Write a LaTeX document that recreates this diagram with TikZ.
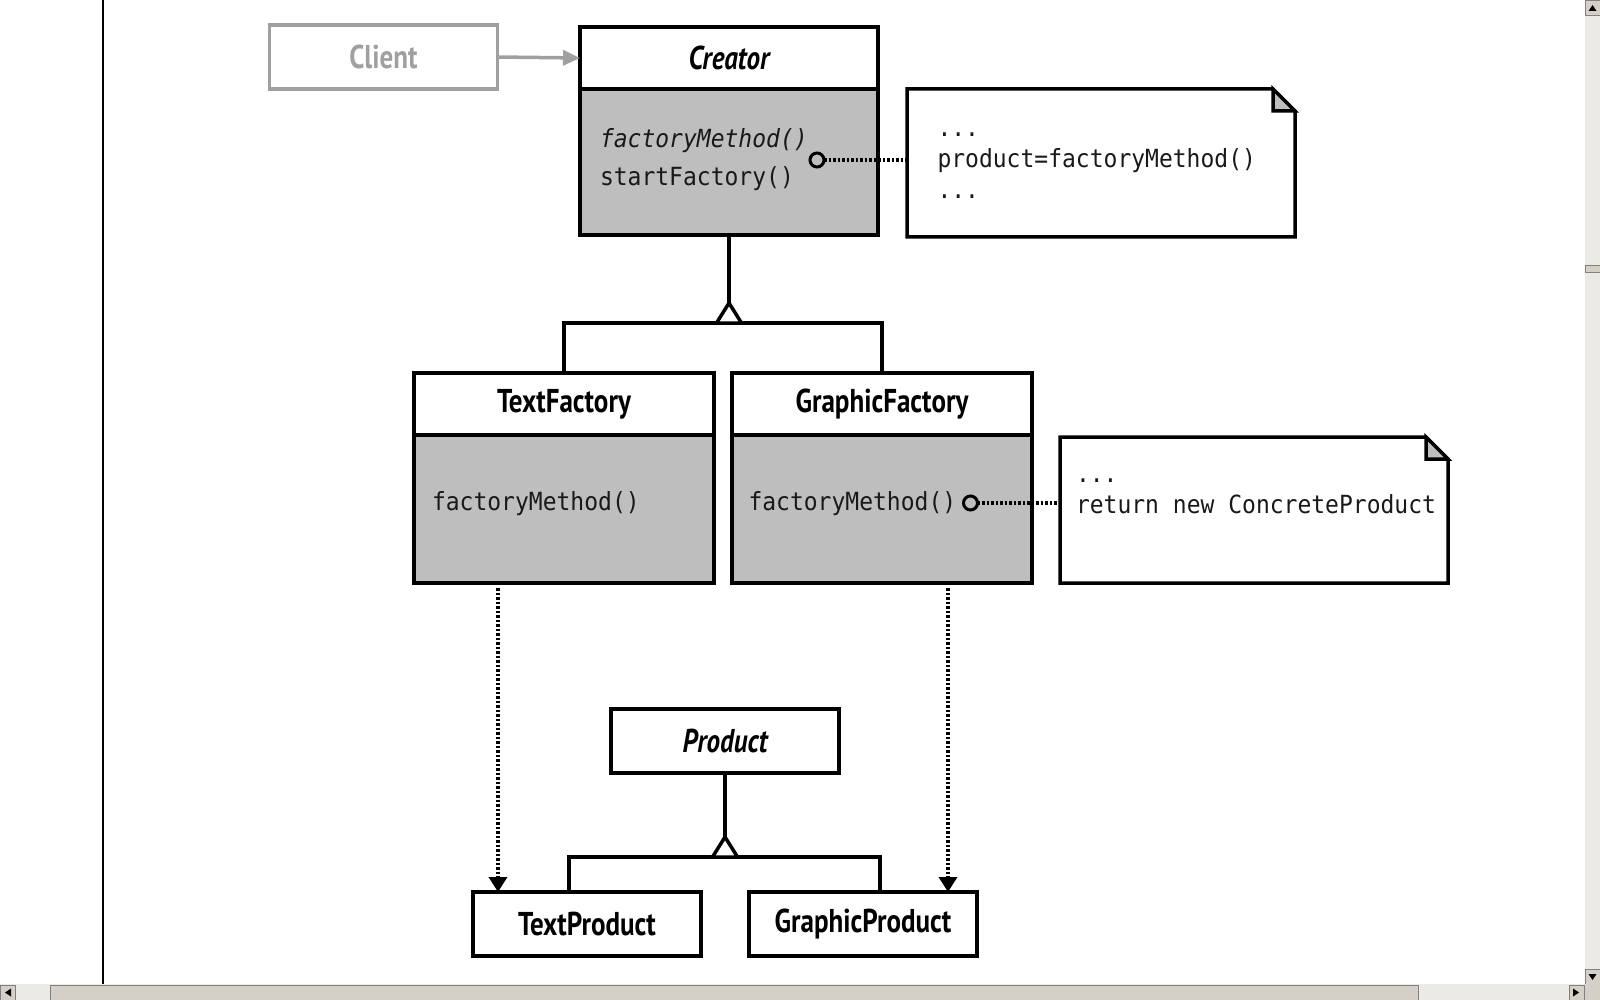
\documentclass[tikz,border=0pt]{standalone}
\usepackage{fontspec}
\setsansfont{PT Sans}[FakeStretch=0.82]
\setmonofont{DejaVu Sans Mono}[FakeStretch=0.92]
\usetikzlibrary{calc,arrows.meta}
\definecolor{classColor}{RGB}{190, 190, 190}
\definecolor{clientColor}{RGB}{160, 160, 160}
\definecolor{codeColor}{RGB}{25, 25, 25}
\definecolor{trackColor}{RGB}{236, 234, 228}
\definecolor{thumbColor}{RGB}{212, 208, 200}
\newcommand{\classfont}{\fontsize{33}{38}\selectfont\sffamily\bfseries}
\newcommand{\codefont}{\fontsize{25}{31}\selectfont\ttfamily}

\begin{document}
\begin{tikzpicture}[
    x=1pt, y=-1pt,
    every node/.style={inner sep=0pt, outer sep=0pt},
    class head/.style={draw, line width=3.5pt, fill=white, minimum width=300pt, minimum height=62pt, font=\classfont},
    class body/.style={draw, line width=3.5pt, fill=classColor, minimum width=300pt, minimum height=148pt},
    class single/.style={class head, minimum width=228pt, minimum height=64pt},
    method/.style={anchor=base west, font=\codefont, text=codeColor},
    note/.style={minimum width=388pt, minimum height=148pt},
    note line/.style={line width=3.5pt},
    note text/.style={anchor=north west, align=left, font=\codefont, text=codeColor},
    note dot/.style={circle, draw, line width=3pt, fill=classColor, minimum size=14pt},
    note link/.style={line width=3.5pt, dash pattern=on 2.5pt off 2pt},
    inherit/.style={line width=3.5pt},
    depends/.style={line width=3.5pt, dash pattern=on 2.5pt off 2pt, -{Triangle[width=18pt, length=15pt]}}
]
    \useasboundingbox (0,0) rectangle (1600,1000);

    \node [class single, draw=clientColor, text=clientColor] (client) at (383.5,57) {Client};

    \node [class head, minimum width=298pt] (creator) at (729,58) {\itshape Creator};
    \node [class body, minimum width=298pt, minimum height=146pt, anchor=north] (creator_ops) at (creator.south) {};
    \node [method] (creator_fm) at ($(creator_ops.north west)+(20,59)$) {\itshape factoryMethod()};
    \node [method] (creator_sf) at ($(creator_fm.base west)+(0,38)$) {startFactory()};
    \node [note dot] (creator_dot) at ($(creator_ops.north west)+(237,71)$) {};

    \draw[line width=3.5pt, clientColor, -{Triangle[width=15pt, length=17pt]}] (client.east) -- (creator.west);

    \node [note] (note_start) at (1101,163) {};
    \draw[note line] (note_start.north west) -- ($(note_start.north east)+(-22,0)$) -- ($(note_start.north east)+(0,22)$) 
     -- (note_start.south east) -- (note_start.south west) -- cycle;
    \draw[note line, fill=classColor] ($(note_start.north east)+(-22,0)$) -- ++(0,22) -- ++(22,0) -- cycle;
    \node [note text] (note_start_text) at ($(note_start.north west)+(30.5,26.3)$) {\strut...\\\strut product=factoryMethod()\\\strut...};
    \draw[note link] (creator_dot) -- (creator_dot -| note_start.west);

    \node [class head] (text_factory) at (564,404) {TextFactory};
    \node [class body, anchor=north] (text_factory_ops) at (text_factory.south) {};
    \node [method] (text_factory_fm) at ($(text_factory_ops.north west)+(18,75)$) {factoryMethod()};

    \node [class head] (graphic_factory) at (882,404) {GraphicFactory};
    \node [class body, anchor=north] (graphic_factory_ops) at (graphic_factory.south) {};
    \node [method] (graphic_factory_fm) at ($(graphic_factory_ops.north west)+(16.5,75)$) {factoryMethod()};
    \node [note dot] (graphic_dot) at ($(graphic_factory_ops.north west)+(238.5,68)$) {};

    \node [note, minimum height=146pt] (note_create) at (1254,510) {};
    \draw[note line] (note_create.north west) -- ($(note_create.north east)+(-22,0)$) -- ($(note_create.north east)+(0,22)$) 
     -- (note_create.south east) -- (note_create.south west) -- cycle;
    \draw[note line, fill=classColor] ($(note_create.north east)+(-22,0)$) -- ++(0,22) -- ++(22,0) -- cycle;
    \node [note text] (note_create_text) at ($(note_create.north west)+(16,23.3)$) {\strut...\\\strut return new ConcreteProduct};
    \draw[note link] (graphic_dot) -- (graphic_dot -| note_create.west);

    \coordinate (creator_apex) at ($(creator_ops.south)+(0,68)$);
    \draw[inherit] (creator_ops.south) -- (creator_apex);
    \draw[inherit] (text_factory.north) |- ($(creator_apex)+(0,20)$) -| (graphic_factory.north);
    \draw[inherit, fill=white] (creator_apex) -- ++(12.5,20) -- ++(-25,0) -- cycle;

    \node [class single] (product) at (725,741) {\itshape Product};
    \node [class single] (text_product) at (587,924) {TextProduct};
    \node [class single] (graphic_product) at (863,924) {GraphicProduct};

    \coordinate (product_apex) at ($(product.south)+(0,64)$);
    \draw[inherit] (product.south) -- (product_apex);
    \draw[inherit] ($(text_product.north)+(-18,0)$) |- ($(product_apex)+(0,20)$) -| ($(graphic_product.north)+(17,0)$);
    \draw[inherit, fill=white] (product_apex) -- ++(12.5,20) -- ++(-25,0) -- cycle;

    \coordinate (text_dep) at ($(text_factory_ops.south west)+(84,5)$);
    \draw[depends] (text_dep) -- (text_dep |- text_product.north);
    \coordinate (graphic_dep) at ($(graphic_factory_ops.south west)+(216,5)$);
    \draw[depends] (graphic_dep) -- (graphic_dep |- graphic_product.north);

    \draw[line width=2pt] (103,0) -- (103,984);
    \fill[trackColor] (1585,0) rectangle (1600,984);
    \fill[trackColor] (0,984) rectangle (1585,1000);
    \filldraw[thumbColor, draw=gray] (1585,0) rectangle (1600,15);
    \fill (1588.5,11) -- (1596.5,11) -- (1592.5,5) -- cycle;
    \filldraw[thumbColor, draw=gray] (1585,265) rectangle (1600,272);
    \filldraw[thumbColor, draw=gray] (1585,969) rectangle (1600,984);
    \fill (1588.5,974) -- (1596.5,974) -- (1592.5,980) -- cycle;
    \filldraw[thumbColor, draw=gray] (0,985) rectangle (15,1000);
    \fill (5,992.5) -- (11,988.5) -- (11,996.5) -- cycle;
    \filldraw[thumbColor, draw=gray] (50,985) rectangle (1418,1000);
    \filldraw[thumbColor, draw=gray] (1569,985) rectangle (1584,1000);
    \fill (1579,992.5) -- (1573,988.5) -- (1573,996.5) -- cycle;
    \fill[thumbColor] (1585,984) rectangle (1600,1000);
\end{tikzpicture}
\end{document}
